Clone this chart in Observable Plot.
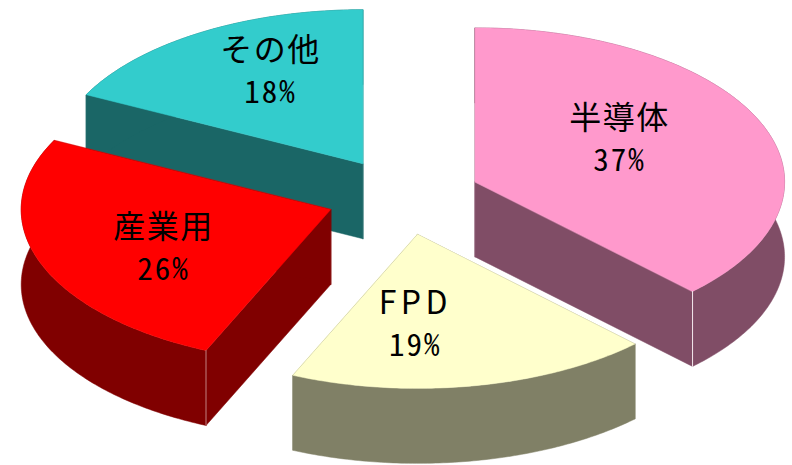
<!DOCTYPE html>
<html><head><meta charset="utf-8">
<script src="https://cdn.jsdelivr.net/npm/d3@7"></script>
<script src="https://cdn.jsdelivr.net/npm/@observablehq/plot@0.6"></script>
<style>html,body{margin:0;padding:0;background:#fff;overflow:hidden}svg{display:block}
.pct text{font-feature-settings:"hwid";letter-spacing:2px;}
.name text{letter-spacing:1.5px;}
.latin text{letter-spacing:4.5px;}
</style>
</head><body><div id="chart"></div>
<script>
// Data
const categories = ["半導体", "FPD", "産業用", "その他"];
const percentLabels = [37, 19, 26, 18];
const sliceSizes = [37.6, 19.0, 25.8, 17.6]; // slice sizes as read from the drawn boundaries
const topColors = ["#FF99CC", "#FFFFCC", "#FF0000", "#33CCCC"];
const sideColors = ["#804D66", "#808066", "#800000", "#1A6666"];

// Layout of the tilted pie, in pixels and unit-circle terms
const W = 792, H = 465, cx = 403, cy = 196, rx = 309.5, ry = 154;
const explode = 0.25, depth = 75 / ry, labelRadius = 0.55;
const labelDx = [-13, -33, -7, -3], labelDy = [-9.5, 7, 10.5, -19.5];
const paintOrder = [3, 0, 2, 1];

const arcs = d3.pie().sort(null).value(d => d)(sliceSizes);
const onRim = (a, k = 1) => [k * Math.sin(a), k * Math.cos(a)];
const slices = arcs.map((arc, i) => {
  const mid = (arc.startAngle + arc.endAngle) / 2;
  const [ox, oy] = onRim(mid, explode);
  const n = Math.ceil((arc.endAngle - arc.startAngle) * 80);
  const rim = d3.range(n + 1).map(j => {
    const [x, y] = onRim(arc.startAngle + (arc.endAngle - arc.startAngle) * j / n);
    return [ox + x, oy + y];
  });
  return {i, mid, ox, oy, rim};
});
const pts = (list, id) => list.map(([x, y]) => ({x, y, id}));
const down = ([x, y]) => [x, y - depth];

const marks = [];
for (const i of paintOrder) {
  const {ox, oy, rim} = slices[i];
  const apex = [ox, oy];
  const a = rim[0], b = rim[rim.length - 1];
  const sideFaces = [
    [apex, a, down(a), down(apex)],
    [apex, b, down(b), down(apex)],
    [...rim, ...rim.slice().reverse().map(down)]
  ];
  sideFaces.forEach((f, k) => marks.push(
    Plot.line(pts(f, k), {x: "x", y: "y", z: "id", fill: sideColors[i], stroke: sideColors[i], strokeWidth: 0.5, curve: "linear-closed"})
  ));
  marks.push(Plot.line(pts([apex, ...rim], "top"), {x: "x", y: "y", z: "id", fill: topColors[i], stroke: topColors[i], strokeWidth: 0.5, curve: "linear-closed"}));
  // pale highlight down the visible corner between two side faces
  if (i === 0) marks.push(Plot.line(pts([b, down(b)], "edge"), {x: "x", y: "y", stroke: "#f4e8ee", strokeWidth: 1}));
  if (i === 2) marks.push(Plot.line(pts([a, down(a)], "edge"), {x: "x", y: "y", stroke: "#c08080", strokeWidth: 1}));
}

const font = {fontFamily: "'Noto Sans CJK JP', sans-serif", fill: "#000", lineAnchor: "middle", textAnchor: "middle", stroke: null};
slices.forEach(s => {
  const [lx, ly] = onRim(s.mid, labelRadius);
  const at = [{x: s.ox + lx, y: s.oy + ly}];
  const i = s.i;
  marks.push(Plot.text(at, {x: "x", y: "y", text: () => categories[i], fontSize: 32, dx: labelDx[i], dy: labelDy[i] - 21, className: /^[A-Z]+$/.test(categories[i]) ? "latin" : "name", ...font}));
  marks.push(Plot.text(at, {x: "x", y: "y", text: () => percentLabels[i] + "%", fontSize: 31, dx: labelDx[i], dy: labelDy[i] + 21, className: "pct", ...font}));
});

const chart = Plot.plot({
  width: W, height: H, margin: 0,
  style: {background: "#fff", overflow: "hidden"},
  x: {domain: [-cx / rx, (W - cx) / rx], range: [0, W], axis: null},
  y: {domain: [cy / ry, (cy - H) / ry], range: [0, H], axis: null},
  marks
});
document.getElementById("chart").appendChild(chart);
</script></body></html>
